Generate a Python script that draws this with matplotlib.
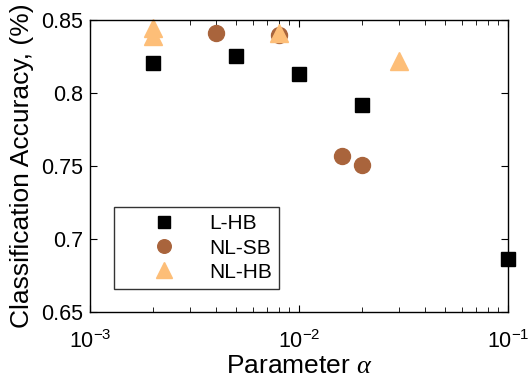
import matplotlib
matplotlib.use("Agg")
import matplotlib.pyplot as plt
from matplotlib.ticker import FixedLocator, FixedFormatter

plt.rcParams['font.family'] = ['Liberation Sans', 'DejaVu Sans']
plt.rcParams['mathtext.fontset'] = 'custom'
plt.rcParams['mathtext.rm'] = 'Liberation Sans'
plt.rcParams['mathtext.it'] = 'Liberation Serif:italic'

lhb_x = [0.002, 0.005, 0.01, 0.02, 0.1]
lhb_y = [0.8205, 0.8255, 0.8132, 0.7915, 0.686]
nlsb_x = [0.004, 0.008, 0.016, 0.02]
nlsb_y = [0.841, 0.840, 0.757, 0.751]
nlhb_x = [0.002, 0.002, 0.008, 0.03]
nlhb_y = [0.8445, 0.839, 0.841, 0.822]

xtick_vals = [1e-3, 1e-2, 1e-1]
xtick_labels = [r'$\mathregular{10^{-3}}$', r'$\mathregular{10^{-2}}$', r'$\mathregular{10^{-1}}$']
ytick_vals = [0.65, 0.7, 0.75, 0.8, 0.85]
ytick_labels = ['0.65', '0.7', '0.75', '0.8', '0.85']

fig = plt.figure(figsize=(5.29, 3.86), dpi=100)
ax = fig.add_axes([90/529, 1-312/386, 418/529, 292/386])

ax.plot(lhb_x, lhb_y, 's', color='black', markersize=9.5, label='L-HB', clip_on=False)
ax.plot(nlsb_x, nlsb_y, 'o', color='#a9643c', markeredgecolor='#a9643c', markersize=11.5, label='NL-SB', clip_on=False)
ax.plot(nlhb_x, nlhb_y, '^', color='#fdbe78', markeredgecolor='#fdbe78', markersize=13, label='NL-HB', clip_on=False)

ax.set_xscale('log')
ax.set_xlim(1e-3, 1e-1)
ax.set_ylim(0.65, 0.85)
ax.xaxis.set_major_locator(FixedLocator(xtick_vals))
ax.xaxis.set_major_formatter(FixedFormatter(xtick_labels))
ax.set_yticks(ytick_vals)
ax.set_yticklabels(ytick_labels)
ax.tick_params(which='both', direction='in', top=True, right=True, labelsize=15.5)
ax.tick_params(which='major', length=5, pad=5)
ax.tick_params(which='minor', length=3.5)
ax.tick_params(axis='x', which='major', pad=13)
for s in ax.spines.values():
    s.set_linewidth(1.0)

ax.set_xlabel(r'Parameter $\alpha$', fontsize=19, labelpad=1)
ax.set_ylabel('Classification Accuracy, (%)', fontsize=19, labelpad=5)

leg = ax.legend(loc='lower left', bbox_to_anchor=(24/418, 23/292), borderaxespad=0,
                fontsize=15, frameon=True, fancybox=False, edgecolor='black',
                borderpad=0.35, handletextpad=0.1, labelspacing=0.25,
                markerscale=0.85, handlelength=4.1)
leg.get_frame().set_linewidth(1.0)

fig.savefig('out.png', dpi=100)
